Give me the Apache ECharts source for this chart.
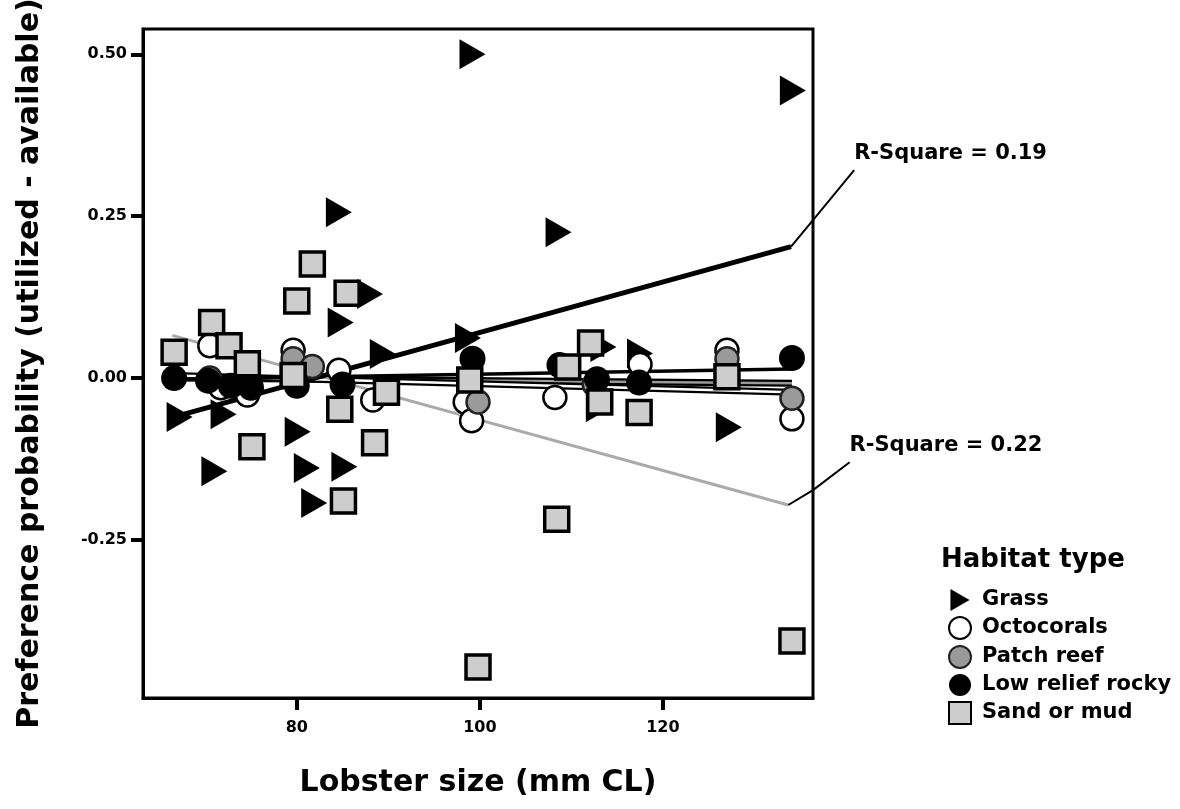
<!DOCTYPE html>
<html><head><meta charset="utf-8">
<script src="https://cdn.jsdelivr.net/npm/echarts@6/dist/echarts.min.js"></script>
<style>html,body{margin:0;padding:0;background:#fff}#c{width:1180px;height:809px}</style>
</head><body><div id="c"></div>
<script>
// ---- data ----
const categories = ['Grass', 'Octocorals', 'Patch reef', 'Low relief rocky', 'Sand or mud'];
const xTicks = [80, 100, 120];
const yTicks = [-0.25, 0, 0.25, 0.5];
const xRange = [63.2, 136.4];
const yRange = [-0.494, 0.539];
const xTitle = 'Lobster size (mm CL)';
const yTitle = 'Preference probability (utilized - available)';
const legendTitle = 'Habitat type';

const grass = [[99.2,0.500],[134.2,0.444],[84.6,0.256],[108.6,0.225],[88.0,0.130],[84.8,0.086],[89.4,0.037],[98.7,0.062],[113.5,0.048],[117.5,0.038],[67.2,-0.060],[72.0,-0.056],[80.1,-0.083],[71.0,-0.144],[81.1,-0.139],[85.2,-0.137],[81.9,-0.193],[113.0,-0.045],[127.2,-0.076]];
const octocorals = [[70.5,0.050],[71.7,-0.015],[74.6,-0.026],[79.6,0.043],[84.6,0.012],[88.3,-0.034],[98.4,-0.037],[99.1,-0.066],[108.2,-0.030],[117.5,0.021],[127.0,0.043],[134.1,-0.063]];
const patchReef = [[70.5,0.000],[79.6,0.030],[81.7,0.018],[99.8,-0.037],[112.5,-0.010],[127.0,0.030],[134.1,-0.031]];
const lowRelief = [[66.6,0.000],[70.3,-0.004],[72.8,-0.012],[75.0,-0.015],[80.0,-0.012],[85.0,-0.010],[99.2,0.030],[108.7,0.020],[112.8,-0.002],[117.4,-0.007],[134.1,0.031]];
const sandMud = [[66.6,0.040],[70.7,0.086],[72.6,0.050],[74.6,0.022],[75.1,-0.106],[79.6,0.004],[80.0,0.119],[81.7,0.176],[85.5,0.131],[84.7,-0.048],[85.1,-0.190],[88.5,-0.100],[89.8,-0.022],[98.9,-0.003],[99.8,-0.446],[108.4,-0.218],[109.6,0.017],[112.1,0.054],[113.1,-0.037],[117.4,-0.053],[127.0,0.002],[134.1,-0.406]];

// fit lines (end points)
const grassFit = [[66.6,-0.060],[134.0,0.203]];
const sandFit = [[66.4,0.066],[133.7,-0.196]];
const lowFit = [[66.6,-0.002],[134.1,0.014]];
const octoFit = [[66.6,0.004],[134.1,-0.022]];
const patchFit = [[66.6,0.000],[134.1,-0.008]];
// leader lines to R-square labels
const grassLeader = [[134.0,0.203],[136.4,0.244],[140.9,0.321]];
const sandLeader = [[133.7,-0.196],[136.4,-0.173],[140.4,-0.130]];
const rsqLabels = ['R-Square = 0.19', 'R-Square = 0.22'];

// ---- chart ----
const FONT = 'DejaVu Sans';
const chart = echarts.init(document.getElementById('c'));
const triPath = 'path://M0,0 L26,15 L0,30 Z';

function line(data, color, width, z) {
  return {type:'line', data:data, symbol:'none', silent:true, z:z,
    lineStyle:{color:color, width:width}, legendHoverLink:false};
}

const option = {
  animation:false,
  backgroundColor:'#fff',
  grid:{left:143, right:367, top:29, bottom:111, show:true, borderColor:'#000', borderWidth:3,
    containLabel:false, outerBoundsMode:'none'},
  title:{text:legendTitle, left:941, top:547, padding:0,
    textStyle:{color:'#000', fontFamily:FONT, fontWeight:'bold', fontSize:26}},
  legend:{
    data:categories, orient:'vertical', left:943, top:584, itemGap:5,
    itemWidth:22, itemHeight:22, selectedMode:false,
    textStyle:{color:'#000', fontFamily:FONT, fontWeight:'bold', fontSize:21, padding:[0,0,0,6]}
  },
  xAxis:{
    type:'value', min:xRange[0], max:xRange[1],
    axisLine:{onZero:false, lineStyle:{color:'#000', width:3}},
    axisTick:{customValues:xTicks, length:12, inside:false, lineStyle:{color:'#000', width:4}},
    axisLabel:{customValues:xTicks, margin:22, color:'#000', fontFamily:FONT, fontWeight:'bold', fontSize:16},
    splitLine:{show:false},
    name:xTitle, nameLocation:'middle', nameGap:70,
    nameTextStyle:{color:'#000', fontFamily:FONT, fontWeight:'bold', fontSize:30}
  },
  yAxis:{
    type:'value', min:yRange[0], max:yRange[1],
    axisLine:{onZero:false, lineStyle:{color:'#000', width:3}},
    axisTick:{customValues:yTicks, length:12, inside:false, lineStyle:{color:'#000', width:4}},
    axisLabel:{customValues:yTicks, margin:16, color:'#000', fontFamily:FONT, fontWeight:'bold', fontSize:16,
      formatter:v => v.toFixed(2)},
    splitLine:{show:false},
    name:yTitle, nameLocation:'middle', nameGap:98,
    nameTextStyle:{color:'#000', fontFamily:FONT, fontWeight:'bold', fontSize:30}
  },
  series:[
    line(patchFit, '#000', 7, 1), line(patchFit, '#999', 2.5, 1),
    line(octoFit, '#000', 7, 1), line(octoFit, '#fff', 2.5, 1),
    line(lowFit, '#000', 3.5, 1),
    line(sandFit, '#aaa', 3, 1),
    line(grassFit, '#000', 5, 1),
    {name:categories[0], type:'scatter', data:grass, symbol:triPath, symbolSize:[26,30], z:3,
      itemStyle:{color:'#000', opacity:1}},
    {name:categories[1], type:'scatter', data:octocorals, symbol:'circle', symbolSize:23, z:4,
      itemStyle:{color:'#fff', borderColor:'#000', borderWidth:2.5, opacity:1}},
    {name:categories[2], type:'scatter', data:patchReef, symbol:'circle', symbolSize:23, z:5,
      itemStyle:{color:'#9a9a9a', borderColor:'#222', borderWidth:2.5, opacity:1}},
    {name:categories[3], type:'scatter', data:lowRelief, symbol:'circle', symbolSize:26, z:6,
      itemStyle:{color:'#000', opacity:1}},
    {name:categories[4], type:'scatter', data:sandMud, symbol:'rect', symbolSize:24, z:7,
      itemStyle:{color:'#cdcdcd', borderColor:'#000', borderWidth:3.5, opacity:1}}
  ]
};
chart.setOption(option);

// leader lines and R-square labels, placed through the chart's own scales
function leader(pts, text) {
  const px = pts.map(p => chart.convertToPixel({gridIndex:0}, p));
  const end = px[px.length - 1];
  return [
    {type:'polyline', z:100, silent:true, shape:{points:px},
      style:{stroke:'#000', lineWidth:2, fill:null}},
    {type:'text', z:100, silent:true, x:end[0], y:end[1] - 17,
      style:{text:text, fill:'#000', fontFamily:FONT, fontWeight:'bold', fontSize:21,
        align:'left', verticalAlign:'middle'}}
  ];
}
chart.setOption({graphic:[...leader(grassLeader, rsqLabels[0]), ...leader(sandLeader, rsqLabels[1])]});
</script>
</body></html>
